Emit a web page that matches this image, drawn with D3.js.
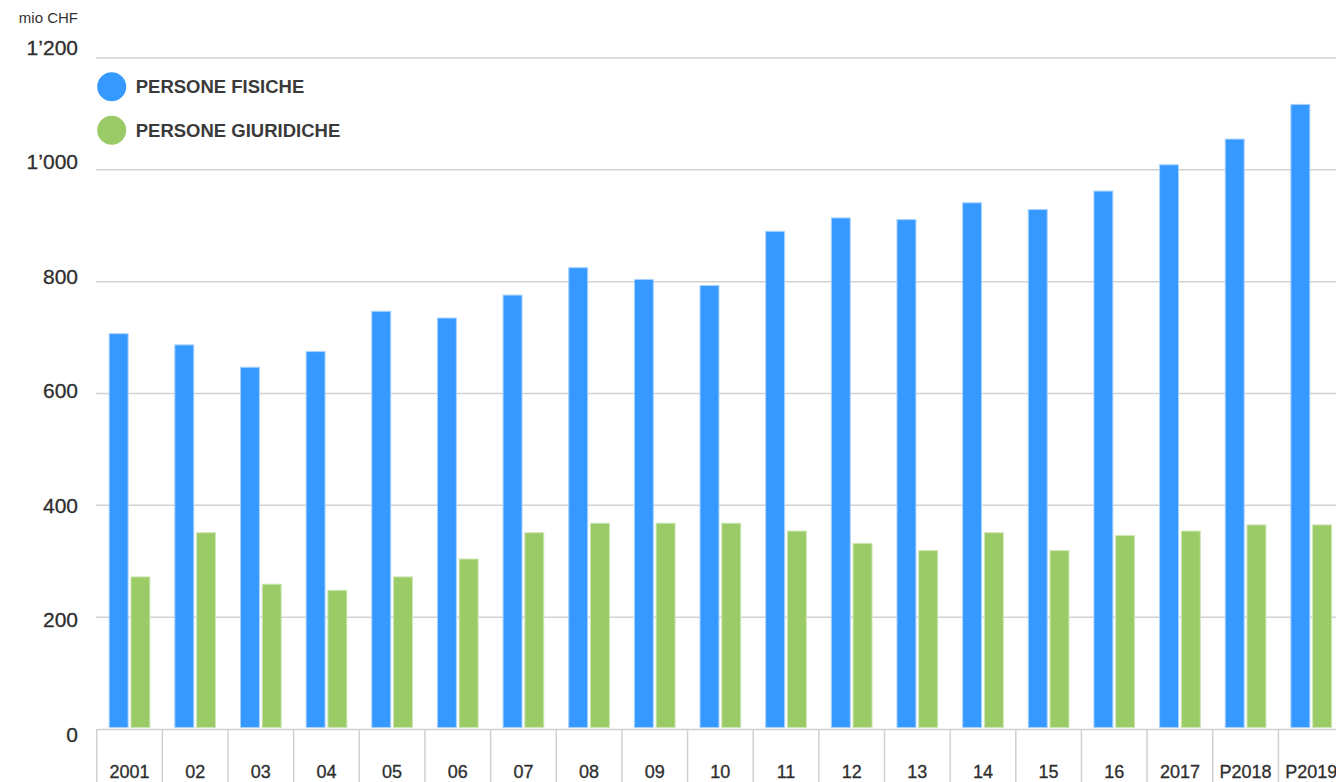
<!DOCTYPE html>
<html>
<head>
<meta charset="utf-8">
<script src="https://cdn.jsdelivr.net/npm/d3@7"></script>
<style>
  html, body { margin: 0; padding: 0; background: #fff; overflow: hidden; }
  svg { display: block; font-family: "Liberation Sans", Arial, Helvetica, sans-serif; }
</style>
</head>
<body>
<svg id="chart" width="1336" height="782"></svg>
<script>
const categories = ["2001","02","03","04","05","06","07","08","09","10","11","12","13","14","15","16","2017","P2018","P2019"];
const personeFisiche = [707, 687, 647, 675, 747, 735, 776, 825, 804, 793, 890, 914, 911, 941, 929, 962, 1009, 1055, 1117];
const personeGiuridiche = [272, 351, 259, 248, 272, 304, 351, 368, 368, 368, 354, 332, 319, 351, 319, 346, 354, 365, 365];
const seriesNames = ["PERSONE FISICHE", "PERSONE GIURIDICHE"];
const seriesColors = ["#3699ff", "#9acb66"];
const seriesStrokes = ["#a9d2ff", "#cde6b5"];
const yTicks = [0, 200, 400, 600, 800, 1000, 1200];
const yTickLabels = ["0", "200", "400", "600", "800", "1’000", "1’200"];
const unitLabel = "mio CHF";

const svg = d3.select("#chart");
const W = 1336, H = 782;
const plotLeft = 96.7, plotBase = 729, plotTop = 58;

const x0 = d3.scaleBand().domain(categories).range([plotLeft, plotLeft + 19 * 65.65]).padding(0);
const groupW = 40.7;
const x1 = d3.scaleBand().domain(seriesNames).range([0, groupW]).paddingInner(0.13);
const y = d3.scaleLinear().domain([0, 1200]).range([plotBase, plotTop]);
const yLab = d3.scaleLinear().domain([0, 1200]).range([734, 47]);

// gridlines
svg.append("g").selectAll("line").data(yTicks.filter(d => d > 0)).join("line")
  .attr("x1", 96).attr("x2", W)
  .attr("y1", d => y(d)).attr("y2", d => y(d))
  .attr("stroke", "#d2d2d2").attr("stroke-width", 1.5);

// y labels
svg.append("g").selectAll("text").data(yTicks).join("text")
  .attr("x", 78).attr("y", d => yLab(d))
  .attr("text-anchor", "end").attr("dominant-baseline", "central")
  .attr("font-size", 21).attr("fill", "#2e2e2e")
  .attr("stroke", "#2e2e2e").attr("stroke-width", 0.3)
  .text((d, i) => yTickLabels[i]);

svg.append("text").attr("x", 78).attr("y", 23).attr("text-anchor", "end")
  .attr("font-size", 15).attr("fill", "#333").text(unitLabel);

// bars
const data = categories.map((c, i) => ({ c, vals: [personeFisiche[i], personeGiuridiche[i]] }));
const groups = svg.append("g").selectAll("g").data(data).join("g")
  .attr("transform", d => `translate(${x0(d.c) + (x0.bandwidth() - groupW) / 2},0)`);
groups.selectAll("rect").data(d => d.vals.map((v, k) => ({ v, k }))).join("rect")
  .attr("x", d => x1(seriesNames[d.k]))
  .attr("width", x1.bandwidth())
  .attr("y", d => y(d.v))
  .attr("height", d => plotBase - 1.5 - y(d.v))
  .attr("fill", d => seriesColors[d.k])
  .attr("stroke", d => seriesStrokes[d.k]).attr("stroke-width", 1);

// x axis box
const axisG = svg.append("g");
axisG.append("line").attr("x1", plotLeft).attr("x2", W).attr("y1", plotBase + 0.5).attr("y2", plotBase + 0.5)
  .attr("stroke", "#d0d0d0").attr("stroke-width", 1.5);
axisG.selectAll("line.div").data(categories).join("line").attr("class", "div")
  .attr("x1", d => x0(d)).attr("x2", d => x0(d))
  .attr("y1", plotBase).attr("y2", H)
  .attr("stroke", "#d0d0d0").attr("stroke-width", 1.5);
axisG.selectAll("text").data(categories).join("text")
  .attr("x", d => x0(d) + x0.bandwidth() / 2).attr("y", 778)
  .attr("text-anchor", "middle").attr("font-size", 18).attr("fill", "#2e2e2e")
  .attr("stroke", "#2e2e2e").attr("stroke-width", 0.3)
  .text(d => d);

// legend
const leg = svg.append("g").selectAll("g").data(seriesNames).join("g")
  .attr("transform", (d, i) => `translate(111.7,${86.7 + i * 43.5})`);
leg.append("circle").attr("r", 14.5).attr("fill", (d, i) => seriesColors[i]);
leg.append("text").attr("x", 24).attr("dominant-baseline", "central")
  .attr("font-size", 18.5).attr("font-weight", "bold").attr("fill", "#3a3a3a")
  .text(d => d);
</script>
</body>
</html>
